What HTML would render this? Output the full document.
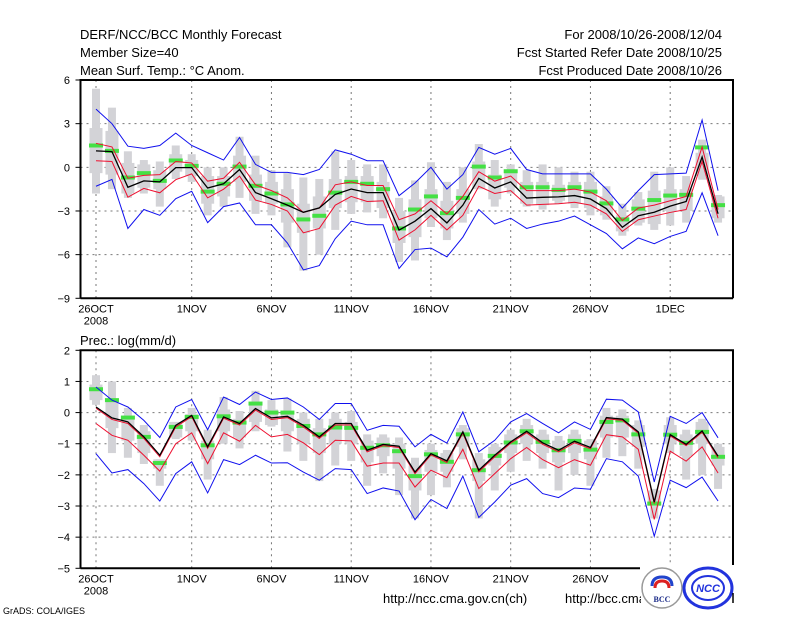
<!DOCTYPE html>
<html><head><meta charset="utf-8">
<style>
html,body{margin:0;padding:0;background:#fff;}
svg{display:block;font-family:"Liberation Sans",sans-serif;}
</style></head>
<body>
<svg id="c" width="800" height="618" viewBox="0 0 800 618" xmlns="http://www.w3.org/2000/svg">
<g font-size="13" fill="#000">
<text x="80" y="39">DERF/NCC/BCC Monthly Forecast</text>
<text x="80" y="57">Member Size=40</text>
<text x="80" y="75">Mean Surf. Temp.: °C Anom.</text>
<text x="722" y="39" text-anchor="end">For 2008/10/26-2008/12/04</text>
<text x="722" y="57" text-anchor="end">Fcst Started Refer Date 2008/10/25</text>
<text x="722" y="75" text-anchor="end">Fcst Produced Date 2008/10/26</text>
<text x="80" y="345">Prec.: log(mm/d)</text>
<text x="383" y="603">http://ncc.cma.gov.cn(ch)</text>
<text x="565" y="603">http://bcc.cma.gov.cn</text>
<text x="3" y="614" font-size="9">GrADS: COLA/IGES</text>
</g>
<g id="top"></g>
<g id="bot"></g>
<g id="logos">
<rect x="641" y="565" width="98" height="53" fill="#fff"/>
<circle cx="662" cy="588" r="20" fill="#fff" stroke="#999" stroke-width="1.5"/>
<path d="M652 586 q0-9 10-9 q10 0 10 9" fill="none" stroke="#2244cc" stroke-width="3"/>
<path d="M655 588 q0-7 7-7 q7 0 7 7" fill="none" stroke="#dd2222" stroke-width="3"/>
<text x="662" y="602" text-anchor="middle" font-size="8" font-weight="bold" fill="#1a2a88" font-family="Liberation Serif,serif">BCC</text>
<ellipse cx="708" cy="588" rx="24" ry="20" fill="#fff" stroke="#2233dd" stroke-width="3"/>
<ellipse cx="708" cy="588" rx="16" ry="12" fill="none" stroke="#2233dd" stroke-width="2"/>
<text x="708" y="592" text-anchor="middle" font-size="11" font-style="italic" font-weight="bold" fill="#2233dd">NCC</text>
<line x1="733" y1="593" x2="733" y2="603" stroke="#000" stroke-width="1.5"/>
</g>
</svg>
<script>
const dates=["26OCT","1NOV","6NOV","11NOV","16NOV","21NOV","26NOV","1DEC"];
const dateIdx=[0,6,11,16,21,26,31,36];
// Temperature panel
const tMean=[1.13,1.08,-1.37,-0.93,-1.0,-0.02,-0.02,-1.42,-1.13,-0.15,-1.74,-2.16,-2.6,-3.09,-2.79,-1.86,-1.49,-1.74,-1.74,-4.31,-3.7,-2.84,-3.82,-2.6,-0.76,-1.42,-1.0,-2.11,-2.06,-2.03,-1.94,-2.18,-2.84,-4.12,-3.33,-3.09,-2.67,-2.35,0.71,-3.19];
const tRedHi=[1.65,1.4,-0.75,-0.55,-0.5,0.4,0.3,-0.95,-0.75,0.35,-1.2,-1.6,-2.1,-3.1,-2.8,-1.2,-1.0,-1.25,-1.25,-3.6,-3.2,-2.3,-3.2,-2.0,-0.3,-0.95,-0.6,-1.6,-1.6,-1.6,-1.5,-1.7,-2.3,-3.65,-2.8,-2.6,-2.3,-2.0,1.4,-2.9];
const tRedLo=[0.45,0.4,-2.05,-1.45,-1.75,-0.85,-0.45,-2.1,-1.5,-0.6,-2.25,-2.55,-3.0,-4.5,-4.2,-2.6,-2.0,-2.35,-2.3,-5.0,-4.3,-3.3,-4.3,-3.3,-1.3,-1.8,-1.6,-2.6,-2.55,-2.5,-2.4,-2.6,-3.2,-4.4,-3.6,-3.35,-3.1,-2.9,0.4,-3.5];
const tMax=[4.0,3.0,1.45,1.3,1.5,2.35,1.5,1.0,0.5,2.05,0.2,-0.35,-0.35,-0.5,-0.15,1.2,0.9,0.45,0.45,-1.95,-1.08,0,-1.5,-0.5,1.37,0.9,1.3,-0.15,-0.45,-0.45,-0.45,-0.45,-1.5,-2.8,-1.6,-0.5,-0.45,-0.4,3.25,-1.6];
const tMin=[-1.3,-0.83,-4.2,-2.9,-3.3,-2.15,-1.65,-3.8,-2.7,-2.45,-3.95,-3.95,-5.2,-7.05,-6.75,-4.9,-3.7,-3.95,-3.95,-6.95,-5.65,-5.55,-6.15,-4.8,-2.9,-3.9,-3.5,-4.2,-3.9,-3.7,-3.35,-3.95,-4.55,-5.6,-4.85,-5.25,-4.75,-4.4,-1.75,-4.7];
const tObs=[1.5,1.13,-0.7,-0.4,-0.93,0.47,0.1,-1.67,-1.13,0.05,-1.27,-1.8,-2.55,-3.58,-3.33,-1.74,-1.0,-1.13,-1.5,-4.2,-2.9,-2.0,-3.15,-2.1,0.05,-0.7,-0.27,-1.37,-1.37,-1.55,-1.37,-1.67,-2.48,-3.58,-2.84,-2.25,-1.94,-1.89,1.37,-2.6];
const tBarHi=[5.4,4.1,1.1,0.5,0.4,1.5,0.9,0,0,2.1,0.8,-0.2,-0.4,-0.7,-0.8,1.1,0.5,0.2,0.2,-2.1,-0.9,0.35,-1.0,0,1.6,0.5,0.2,-0.2,0.2,0,-0.3,-0.3,-1.3,-2.5,-1.7,-0.3,0,-0.6,1.9,-1.9];
const tBarLo=[-1.8,-1.5,-2.1,-1.8,-2.7,-0.8,-1.0,-3.3,-2.7,-2.1,-3.2,-3.3,-5.5,-7.1,-6.0,-4.3,-3.2,-3.1,-3.5,-6.5,-6.4,-4.1,-5.0,-3.8,-1.5,-2.7,-1.8,-2.7,-2.9,-2.5,-2.8,-3.3,-3.6,-4.7,-4.0,-4.3,-4.0,-3.8,-0.85,-3.8];
const tBoxHi=[2.7,2.5,0.3,0.2,-0.2,0.9,0.5,-0.6,-0.6,0.8,-0.5,-1.0,-1.5,-2.5,-2.0,-0.8,-0.6,-0.6,-1.0,-3.0,-2.2,-1.5,-2.3,-1.5,0.4,-0.5,-0.3,-1.0,-1.0,-1.2,-1.0,-1.0,-2.0,-3.3,-2.2,-1.6,-1.5,-1.5,1.0,-2.0];
const tBoxLo=[-0.4,-0.5,-1.8,-1.4,-1.5,-0.3,-0.6,-2.5,-2.0,-1.0,-2.3,-2.5,-3.8,-4.5,-4.2,-2.8,-2.4,-2.4,-2.8,-5.2,-4.8,-3.5,-4.2,-3.2,-1.5,-2.2,-1.4,-2.5,-2.6,-2.3,-2.5,-2.8,-3.3,-4.4,-3.8,-3.9,-3.0,-3.0,-0.6,-3.5];
const tTicks=[6,3,0,-3,-6,-9];
// Precipitation panel
const pMean=[0.18,-0.17,-0.3,-0.78,-1.37,-0.41,-0.09,-1.1,-0.14,-0.35,0.13,-0.17,-0.12,-0.41,-0.78,-0.35,-0.35,-1.21,-1.02,-1.08,-1.91,-1.32,-1.55,-0.62,-1.85,-1.37,-0.94,-0.6,-0.97,-1.21,-0.92,-1.12,-0.16,-0.21,-0.62,-2.87,-0.71,-1.02,-0.59,-1.4];
const pRedHi=[0.14,-0.22,-0.35,-0.83,-1.42,-0.46,-0.13,-1.15,-0.18,-0.4,0.08,-0.22,-0.16,-0.46,-0.83,-0.4,-0.4,-1.26,-1.06,-1.12,-1.96,-1.36,-1.6,-0.66,-1.9,-1.42,-0.98,-0.65,-1.02,-1.26,-0.97,-1.16,-0.2,-0.25,-0.66,-2.92,-0.75,-1.06,-0.63,-1.45];
const pRedLo=[-0.35,-0.73,-0.89,-1.37,-1.88,-1.0,-0.65,-1.64,-0.65,-0.92,-0.41,-0.78,-0.7,-0.97,-1.35,-0.89,-0.91,-1.72,-1.62,-1.62,-2.39,-1.85,-2.09,-1.18,-2.44,-1.96,-1.48,-1.12,-1.51,-1.77,-1.51,-1.69,-0.71,-0.78,-1.18,-3.43,-1.24,-1.56,-1.1,-1.94];
const pMax=[0.82,0.4,0.18,-0.25,-0.8,0.18,0.42,-0.55,0.5,0.26,0.66,0.42,0.47,0.18,-0.22,0.29,0.29,-0.57,-0.41,-0.44,-1.1,-0.7,-0.98,0.02,-1.26,-0.89,-0.3,-0.03,-0.35,-0.65,-0.3,-0.54,0.43,0.4,0.02,-2.23,-0.12,-0.35,0.0,-0.81];
const pMin=[-1.32,-1.94,-1.83,-2.28,-2.84,-1.96,-1.58,-2.58,-1.51,-1.67,-1.37,-1.62,-1.61,-1.91,-2.17,-1.8,-1.83,-2.6,-2.42,-2.52,-3.44,-2.79,-3.08,-2.04,-3.37,-2.87,-2.33,-2.12,-2.6,-2.73,-2.42,-2.46,-1.48,-1.58,-2.04,-3.97,-2.17,-2.41,-2.07,-2.84];
const pObs=[0.75,0.4,-0.16,-0.78,-1.62,-0.46,-0.14,-1.05,-0.12,-0.32,0.29,0,0,-0.43,-0.7,-0.48,-0.49,-1.13,-1.05,-1.24,-2.04,-1.34,-1.58,-0.7,-1.85,-1.39,-0.96,-0.6,-0.94,-1.21,-0.91,-1.19,-0.3,-0.25,-0.7,-2.92,-0.71,-0.97,-0.62,-1.42];
const pBarHi=[1.2,1.0,0.15,-0.4,-1.5,-0.3,0.15,-0.55,0.5,0.05,0.7,0.4,0.45,0,-0.2,0,0.05,-0.7,-0.7,-0.8,-1.45,-1.0,-1.2,-0.4,-1.3,-1.0,-0.55,-0.2,-0.55,-0.75,-0.55,-0.85,0.15,0.1,-0.25,-2.45,-0.15,-0.55,-0.2,-1.0];
const pBarLo=[0.25,-1.3,-1.45,-1.65,-2.35,-0.85,-0.9,-2.15,-1.0,-1.15,-0.6,-0.45,-1.25,-1.55,-2.2,-1.7,-1.55,-2.35,-1.95,-2.65,-3.4,-2.65,-2.4,-1.5,-3.4,-2.5,-1.9,-1.55,-1.8,-2.5,-2.0,-2.35,-1.45,-1.4,-1.8,-3.4,-1.3,-2.15,-2.0,-2.45];
const pBoxHi=[0.9,0.4,-0.1,-0.6,-1.5,-0.3,-0.05,-0.9,0.1,-0.2,0.3,0.1,0.0,-0.2,-0.5,-0.2,-0.3,-0.9,-0.8,-1.0,-1.7,-1.2,-1.3,-0.5,-1.5,-1.1,-0.7,-0.4,-0.7,-0.9,-0.7,-0.9,-0.1,-0.1,-0.4,-2.5,-0.4,-0.7,-0.3,-1.1];
const pBoxLo=[0.4,-0.5,-0.9,-1.3,-1.8,-0.8,-0.6,-1.5,-0.6,-0.8,-0.3,-0.4,-0.6,-1.0,-1.3,-1.0,-1.0,-1.6,-1.4,-1.8,-2.5,-1.9,-1.9,-1.1,-2.2,-1.7,-1.3,-1.0,-1.3,-1.6,-1.3,-1.5,-0.8,-0.8,-1.1,-3.0,-1.0,-1.4,-1.0,-1.7];
const pTicks=[2,1,0,-1,-2,-3,-4,-5];

const NS="http://www.w3.org/2000/svg";
const X0=80.5,X1=733;
function xs(d){return 96+15.95*d;}
function mk(tag,attrs,parent){const e=document.createElementNS(NS,tag);for(const k in attrs)e.setAttribute(k,attrs[k]);parent.appendChild(e);return e;}

function panel(g,top,bot,vmax,vmin,ticks,mean,rHi,rLo,mx,mn,obs,bHi,bLo,qHi,qLo,name,bottomEnd){
  const ys=v=>top+(vmax-v)/(vmax-vmin)*(bot-top);
  // grid
  ticks.forEach(t=>{ if(t!==vmin&&t!==vmax||t===6){const l=mk('line',{x1:X0,x2:X1,y1:ys(t),y2:ys(t),stroke:'#777','stroke-dasharray':'2,4','stroke-width':1},g);
    
    }
    const tx=mk('text',{x:70,y:ys(t)+4,'text-anchor':'end','font-size':11},g);tx.textContent=(t<0?'\u2212'+(-t):t);
    
    
    mk('line',{x1:X0-5,x2:X0,y1:ys(t),y2:ys(t),stroke:'#000'},g);
  });
  dateIdx.forEach((d,i)=>{const x=xs(d);
    const l=mk('line',{x1:x,x2:x,y1:top,y2:bot,stroke:'#777','stroke-dasharray':'2,4','stroke-width':1},g);
    
    
    const tx=mk('text',{x:x,y:bot+14,'text-anchor':'middle','font-size':11},g);tx.textContent=dates[i];
    
    
  });
  const yr=mk('text',{x:xs(0),y:bot+26,'text-anchor':'middle','font-size':11},g);yr.textContent='2008';
  
  
  // grey bars
  for(let d=0;d<mean.length;d++){const x=xs(d);
    const r1=mk('rect',{x:x-4,y:ys(bHi[d]),width:8,height:Math.max(1,ys(bLo[d])-ys(bHi[d])),fill:'#d3d3d7'},g);
    
    
    const r2=mk('rect',{x:x-6.5,y:ys(qHi[d]),width:13,height:Math.max(1,ys(qLo[d])-ys(qHi[d])),fill:'#d3d3d7'},g);
    
    
  }
  for(let d=0;d<obs.length;d++){const x=xs(d);
    const o=mk('rect',{x:x-7,y:ys(obs[d])-2,width:14,height:4,fill:'#44e044'},g);
    
    
  }
  const line=(arr,col,w,nm)=>{const p=mk('polyline',{points:arr.map((v,d)=>xs(d)+','+ys(v)).join(' '),fill:'none',stroke:col,'stroke-width':w},g);
    
    };
  line(mx,'#1010ee',1,name+'-max-line');
  line(mn,'#1010ee',1,name+'-min-line');
  line(rHi,'#ee1030',1,name+'-upper-line');
  line(rLo,'#ee1030',1,name+'-lower-line');
  line(mean,'#000',1.3,name+'-mean-line');
  // frame
  const f=mk('path',{d:`M${X0} ${bot} L${X0} ${top} L${X1} ${top} L${X1} ${bot} M${X0} ${bot} L${bottomEnd} ${bot}`,fill:'none',stroke:'#000','stroke-width':2},g);
  
  
}
const gt=document.getElementById('top');


panel(gt,80,298.3,6,-9,tTicks,tMean,tRedHi,tRedLo,tMax,tMin,tObs,tBarHi,tBarLo,tBoxHi,tBoxLo,'temp',X1);
const gb=document.getElementById('bot');


panel(gb,350.3,568.3,2,-5,pTicks,pMean,pRedHi,pRedLo,pMax,pMin,pObs,pBarHi,pBarLo,pBoxHi,pBoxLo,'prec',640);
</script>
</body></html>
